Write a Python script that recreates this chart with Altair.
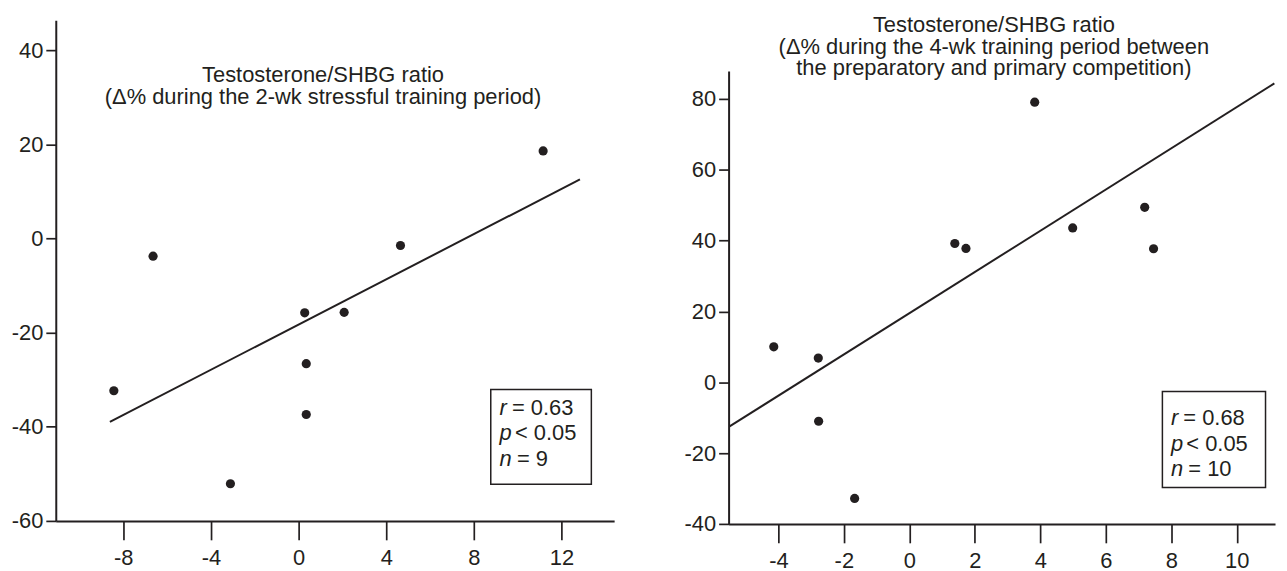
import altair as alt
import pandas as pd

FONT = "Liberation Sans"
INK = "#231f20"

# ---------------- Left panel data ----------------
left_x = [-8.43, -6.64, -3.11, 0.28, 0.35, 0.35, 2.08, 4.65, 11.16]
left_y = [-32.35, -3.77, -52.1, -15.8, -26.6, -37.4, -15.7, -1.5, 18.6]
left_fit_x = [-8.61, 12.84]
left_fit_y = [-38.96, 12.55]
left_xticks = [-8, -4, 0, 4, 8, 12]
left_yticks = [-60, -40, -20, 0, 20, 40]
left_xdomain = [-11.08, 14.4]
left_ydomain = [-60, 46.35]
left_title = ["Testosterone/SHBG ratio",
              "(\u0394% during the 2-wk stressful training period)"]
left_stat_var = ["r", "p", "n"]
left_stat_rest = ["= 0.63", "< 0.05", "= 9"]
left_stat_x = [9.17, 9.17, 9.17]
left_stat_y = [-37.57, -42.86, -48.28]
left_box_x = [8.77]
left_box_x2 = [13.36]
left_box_y = [-32.07]
left_box_y2 = [-52.23]

# ---------------- Right panel data ----------------
right_x = [-4.14, -2.78, -2.77, -1.67, 1.39, 1.73, 3.83, 4.99, 7.19, 7.46]
right_y = [10.0, 6.84, -11.0, -32.8, 39.2, 37.8, 79.1, 43.6, 49.4, 37.7]
right_fit_x = [-5.49, 11.15]
right_fit_y = [-12.46, 84.4]
right_xticks = [-4, -2, 0, 2, 4, 6, 8, 10]
right_yticks = [-40, -20, 0, 20, 40, 60, 80]
right_xdomain = [-5.52, 11.17]
right_ydomain = [-40, 87.9]
right_title = ["Testosterone/SHBG ratio",
               "(\u0394% during the 4-wk training period between",
               "the preparatory and primary competition)"]
right_stat_var = ["r", "p", "n"]
right_stat_rest = ["= 0.68", "< 0.05", "= 10"]
right_stat_x = [7.99, 7.99, 7.99]
right_stat_y = [-12.2, -19.4, -26.6]
right_box_x = [7.73]
right_box_x2 = [10.88]
right_box_y = [-2.6]
right_box_y2 = [-29.7]

REST_DX = [12.5, 15.5, 17.5]
LABEL_EXPR = "datum.value < 0 ? '-' + format(-datum.value, 'd') : format(datum.value, 'd')"


def panel(px, py, fx, fy, xdom, ydom, xticks, yticks, width, height,
          title, t_offset, t_dx, t_lh, svar, srest, sx, sy,
          bx, bx2, by, by2, yrange=None):
    xs = alt.Scale(domain=xdom, nice=False, zero=False)
    if yrange is None:
        ys = alt.Scale(domain=ydom, nice=False, zero=False)
    else:
        ys = alt.Scale(domain=ydom, nice=False, zero=False, range=yrange)
    xaxis = alt.Axis(values=xticks, title=None, grid=False, tickSize=19,
                     labelPadding=8, labelExpr=LABEL_EXPR)
    yaxis = alt.Axis(values=yticks, title=None, grid=False, tickSize=10,
                     labelPadding=3, labelExpr=LABEL_EXPR)

    pts = pd.DataFrame({"x": px, "y": py})
    fit = pd.DataFrame({"x": fx, "y": fy})
    box = pd.DataFrame({"x": bx, "x2": bx2, "y": by, "y2": by2})

    line = alt.Chart(fit).mark_line(color=INK, strokeWidth=2).encode(
        x=alt.X("x:Q", scale=xs, axis=xaxis),
        y=alt.Y("y:Q", scale=ys, axis=yaxis),
    )
    dots = alt.Chart(pts).mark_circle(size=85, color=INK, opacity=1).encode(
        x=alt.X("x:Q", scale=xs), y=alt.Y("y:Q", scale=ys)
    )
    rect = alt.Chart(box).mark_rect(fill="white", stroke=INK, strokeWidth=1.5).encode(
        x=alt.X("x:Q", scale=xs), x2="x2:Q",
        y=alt.Y("y:Q", scale=ys), y2="y2:Q",
    )
    layers = [line, dots, rect]
    for i in range(len(svar)):
        row = pd.DataFrame({"x": [sx[i]], "y": [sy[i]],
                            "v": [svar[i]], "r": [srest[i]]})
        layers.append(
            alt.Chart(row).mark_text(align="left", baseline="alphabetic", font=FONT,
                                     fontSize=22, fontStyle="italic", color=INK).encode(
                x=alt.X("x:Q", scale=xs), y=alt.Y("y:Q", scale=ys), text="v:N")
        )
        layers.append(
            alt.Chart(row).mark_text(align="left", baseline="alphabetic", font=FONT,
                                     fontSize=22, color=INK, dx=REST_DX[i]).encode(
                x=alt.X("x:Q", scale=xs), y=alt.Y("y:Q", scale=ys), text="r:N")
        )
    return alt.layer(*layers).properties(
        width=width, height=height,
        title=alt.TitleParams(text=title, font=FONT, fontSize=22, fontWeight="normal",
                              color=INK, anchor="middle", frame="group", baseline="top",
                              offset=t_offset, dx=t_dx, lineHeight=t_lh),
    )


left = panel(left_x, left_y, left_fit_x, left_fit_y, left_xdomain, left_ydomain,
             left_xticks, left_yticks, 561, 503, left_title, -89.5, -12, 22.6,
             left_stat_var, left_stat_rest, left_stat_x, left_stat_y,
             left_box_x, left_box_x2, left_box_y, left_box_y2)

right = panel(right_x, right_y, right_fit_x, right_fit_y, right_xdomain, right_ydomain,
              right_xticks, right_yticks, 549, 506, right_title, -60.0, -8, 21.5,
              right_stat_var, right_stat_rest, right_stat_x, right_stat_y,
              right_box_x, right_box_x2, right_box_y, right_box_y2,
              yrange=[506, 51])

chart = alt.hconcat(left, right, spacing=115, bounds="flush").properties(
    padding={"left": 3, "top": 5, "right": 0, "bottom": 0}
).configure_view(stroke=None).configure_axis(
    labelFont=FONT, labelFontSize=22, labelColor=INK,
    tickColor=INK, domainColor=INK, domainWidth=2, tickWidth=1.7,
    labelFlush=False, labelOverlap=False, labelBound=False,
)

chart.save("out.html", embed_options={"renderer": "svg", "actions": False})
